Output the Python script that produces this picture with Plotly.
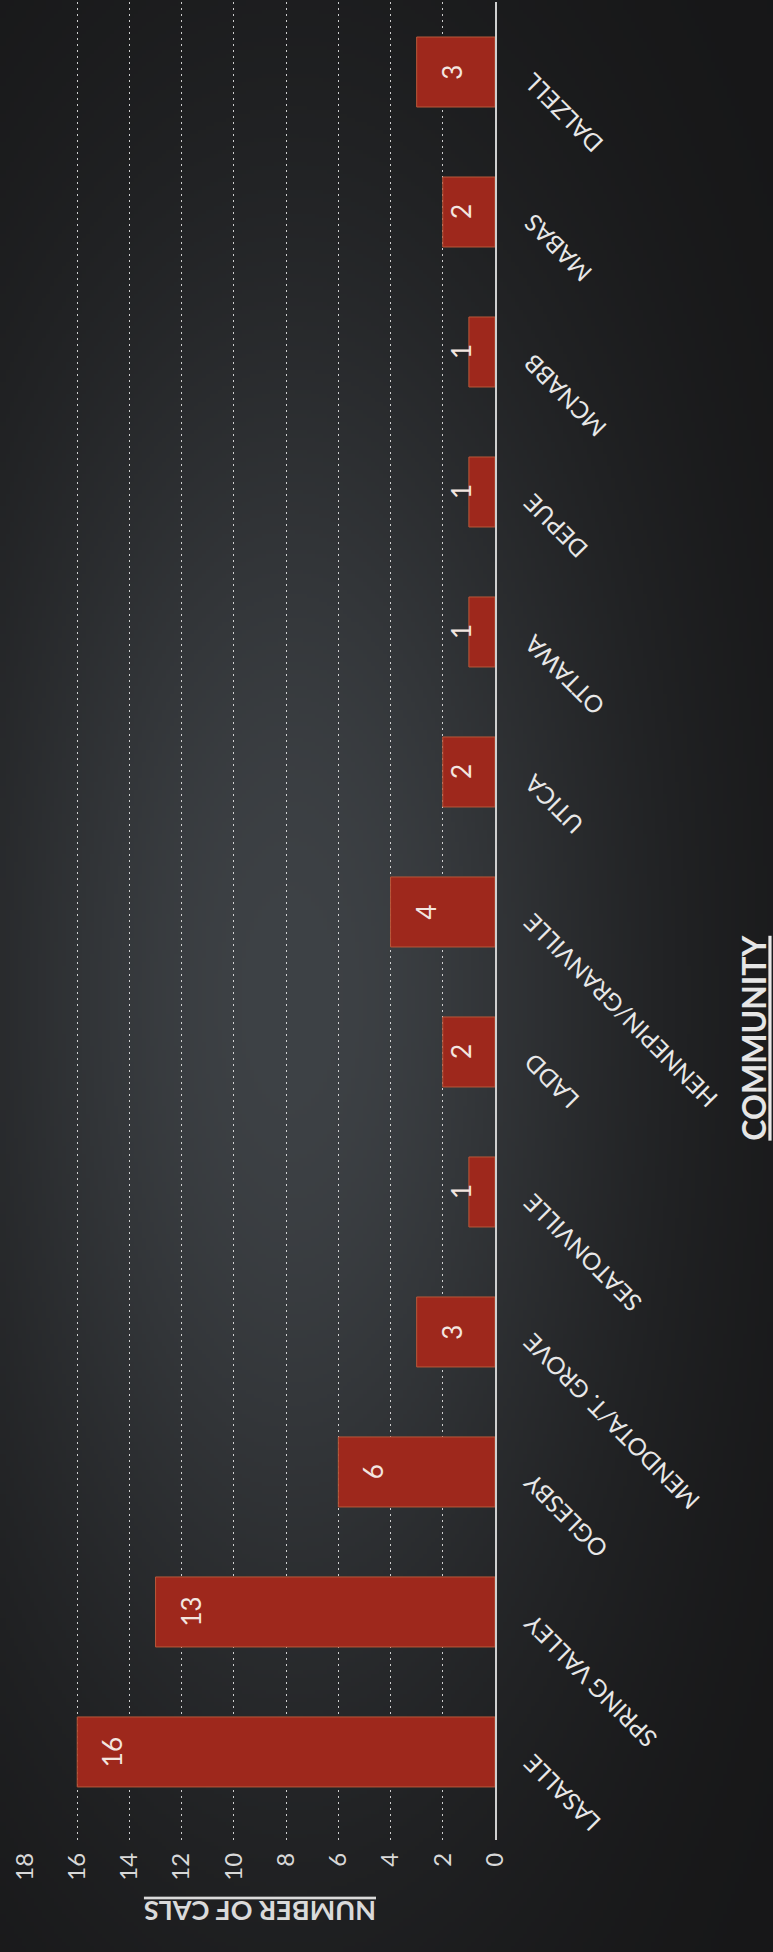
import base64
import struct
import zlib

import numpy as np
import plotly.graph_objects as go

# ---------------- data ----------------
communities = [
    "LASALLE", "SPRING VALLEY", "OGLESBY", "MENDOTA/T. GROVE", "SEATONVILLE",
    "LADD", "HENNEPIN/GRANVILLE", "UTICA", "OTTAWA", "DEPUE", "MCNABB",
    "MABAS", "DALZELL",
]
calls = [16, 13, 6, 3, 1, 2, 4, 2, 1, 1, 1, 2, 3]
value_ticks = [0, 2, 4, 6, 8, 10, 12, 14, 16, 18]
value_title = "NUMBER OF CALS"
category_title = "COMMUNITY"

# ---------------- layout constants ----------------
W, H = 773, 1952
ML, MR, MT, MB = 25, 278, 2, 112
PW, PH = W - ML - MR, H - MT - MB
FONT = "Lato"


def background_uri():
    """Dark vignette background (lighter grey centre, dark edges)."""
    s = 4
    w, h = W // s, H // s
    xs = (np.arange(w) + 0.5) * s
    ys = (np.arange(h) + 0.5) * s
    X, Y = np.meshgrid(xs, ys)
    f = np.exp(-(((X - 290) / 340) ** 2) - (((Y - 1000) / 760) ** 2))
    dark = np.array([22, 22, 23], float)
    light = np.array([62, 66, 70], float)
    img = dark[None, None, :] + f[:, :, None] * (light - dark)[None, None, :]
    img = np.clip(img, 0, 255).astype(np.uint8)
    raw = b"".join(b"\x00" + img[i].tobytes() for i in range(h))

    def chunk(t, d):
        c = struct.pack(">I", len(d)) + t + d
        return c + struct.pack(">I", zlib.crc32(t + d) & 0xFFFFFFFF)

    png = (b"\x89PNG\r\n\x1a\n"
           + chunk(b"IHDR", struct.pack(">IIBBBBB", w, h, 8, 2, 0, 0, 0))
           + chunk(b"IDAT", zlib.compress(raw, 9))
           + chunk(b"IEND", b""))
    return "data:image/png;base64," + base64.b64encode(png).decode()


fig = go.Figure()
fig.add_trace(go.Bar(
    x=calls,
    y=communities,
    orientation="h",
    marker=dict(color="#9e281c", line=dict(color="#b9583a", width=1)),
    hoverinfo="skip",
))

annotations = []
# bar value labels (inside end, Excel-like)
for c, v in zip(communities, calls):
    if v <= 2:
        ax_x, shift = 0, -34
    else:
        ax_x, shift = v, 35
    annotations.append(dict(
        x=ax_x, y=c, xref="x", yref="y", text=str(v), showarrow=False,
        xshift=shift, textangle=-90, xanchor="center", yanchor="middle",
        font=dict(family=FONT, size=26, color="#f3e6e0"),
    ))

# category labels (rotated, upside down)
for c in communities:
    annotations.append(dict(
        x=1, y=c, xref="paper", yref="y", text=c, showarrow=False,
        xanchor="left", yanchor="top", xshift=20, yshift=6, textangle=-135,
        font=dict(family=FONT, size=24, color="#e8e8e8"),
    ))

annotations.append(dict(
    x=0.5, y=-0.039, xref="paper", yref="paper",
    text="<u><b>" + value_title + "</b></u>", showarrow=False,
    textangle=180, xanchor="center", yanchor="middle",
    font=dict(family=FONT, size=27, color="#dadada"),
))
annotations.append(dict(
    x=(754 - ML) / PW, y=0.436, xref="paper", yref="paper",
    text="<u><b>" + category_title + "</b></u>", showarrow=False,
    textangle=-90, xanchor="center", yanchor="middle",
    font=dict(family=FONT, size=32, color="#e6e6e6"),
))

fig.update_layout(
    width=W, height=H,
    margin=dict(l=ML, r=MR, t=MT, b=MB, pad=0),
    paper_bgcolor="#1c1c1c",
    plot_bgcolor="rgba(0,0,0,0)",
    showlegend=False,
    bargap=0.5,
    annotations=annotations,
    images=[dict(
        source=background_uri(), xref="paper", yref="paper",
        x=-ML / PW, y=1 + MT / PH, sizex=W / PW, sizey=H / PH,
        xanchor="left", yanchor="top", sizing="stretch", layer="below",
    )],
    xaxis=dict(
        range=[18, 0], tickmode="array", tickvals=value_ticks,
        ticktext=[str(t) for t in value_ticks],
        showgrid=True, gridcolor="rgba(235,235,235,0.85)", gridwidth=1,
        griddash="2px,4px", zeroline=False, showline=False,
        ticks="", tickangle=-90, ticklabelstandoff=7,
        tickfont=dict(family=FONT, size=24, color="#d8d8d8"),
    ),
    yaxis=dict(
        type="category", categoryorder="array", categoryarray=communities,
        side="right", showline=True, linecolor="#cfcfcf", linewidth=1.5,
        showticklabels=False, showgrid=False, ticks="", zeroline=False,
    ),
)

fig.write_html(
    "out.html",
    config={"displayModeBar": False},
    post_script="document.body.style.margin='0';"
                "document.body.style.background='#1c1c1c';",
)
